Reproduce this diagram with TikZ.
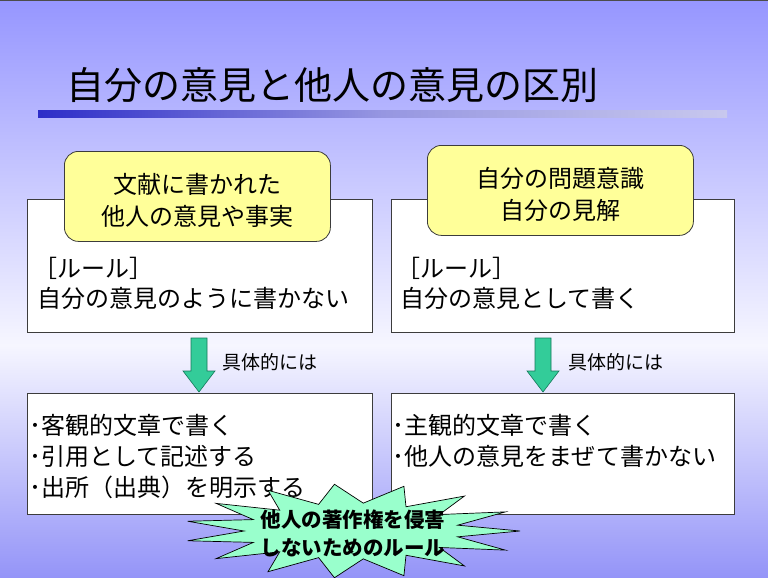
\documentclass[tikz,border=0pt]{standalone}
\usepackage{fontspec}
\setmainfont{Noto Sans CJK JP}
\definecolor{bgtop}{RGB}{150,150,255}
\definecolor{bgmid}{RGB}{246,246,255}
\definecolor{bgbot}{RGB}{148,148,248}
\definecolor{barL}{RGB}{45,45,200}
\definecolor{barM}{RGB}{150,150,225}
\definecolor{barR}{RGB}{200,200,238}
\definecolor{yel}{RGB}{255,255,153}
\definecolor{grn}{RGB}{51,204,153}
\definecolor{grnline}{RGB}{20,120,90}
\definecolor{mint}{RGB}{153,255,204}
\definecolor{edge}{RGB}{60,60,60}
\tikzset{
  whitebox/.style={draw=edge, line width=0.8pt, fill=white},
  yelbox/.style={draw=edge, line width=0.8pt, fill=yel, rounded corners=14pt},
  body/.style={font=\fontsize{24}{28}\selectfont, inner sep=0pt, anchor=west},
  ctext/.style={font=\fontsize{24}{28}\selectfont, inner sep=0pt},
  small/.style={font=\fontsize{19}{22}\selectfont, inner sep=0pt, anchor=west},
  bursttext/.style={font=\bfseries\fontsize{20.5}{24}\selectfont, inner sep=0pt},
  greenarrow/.style={fill=grn, draw=grnline, line width=0.6pt},
}
\begin{document}
\begin{tikzpicture}[x=1pt,y=-1pt]
\useasboundingbox (0,0) rectangle (768,578);
% background
\shade[top color=bgtop, bottom color=bgmid] (0,0) rectangle (768,345);
\shade[top color=bgmid, bottom color=bgbot] (0,345) rectangle (768,578);
\draw[line width=1.5pt, gray!60!black] (0,0.75) -- (768,0.75);
% title
\node[font=\fontsize{38}{42}\selectfont, inner sep=0pt, anchor=west] (title) at (66,85) {自分の意見と他人の意見の区別};
\shade[left color=barL, right color=barR, middle color=barM] (38,110) rectangle (727,117);
% top boxes
\node[whitebox, minimum width=345pt, minimum height=133pt, anchor=north west] (tl) at (27,199) {};
\node[whitebox, minimum width=343pt, minimum height=133pt, anchor=north west] (tr) at (391,199) {};
\node[yelbox, minimum width=266pt, minimum height=90pt, anchor=north west] (yl) at (64,151) {};
\node[yelbox, minimum width=266pt, minimum height=90pt, anchor=north west] (yr) at (427,145) {};
\node[ctext] (yl1) at (197,184) {文献に書かれた};
\node[ctext] (yl2) at (197,216) {他人の意見や事実};
\node[ctext] (yr1) at (560,178) {自分の問題意識};
\node[ctext] (yr2) at (560,210) {自分の見解};
\node[body] (tl1) at (33,268) {［ルール］};
\node[body] (tl2) at (37,298) {自分の意見のように書かない};
\node[body] (tr1) at (396,268) {［ルール］};
\node[body] (tr2) at (400,298) {自分の意見として書く};
% bottom boxes
\node[whitebox, minimum width=345pt, minimum height=121pt, anchor=north west] (bl) at (27,393) {};
\node[whitebox, minimum width=343pt, minimum height=121pt, anchor=north west] (br) at (391,393) {};
\node[body] (bl1) at (29,425) {･客観的文章で書く};
\node[body] (bl2) at (29,456) {･引用として記述する};
\node[body] (bl3) at (29,487) {･出所（出典）を明示する};
\node[body] (br1) at (392,425) {･主観的文章で書く};
\node[body] (br2) at (392,456) {･他人の意見をまぜて書かない};
% green arrows
\draw[greenarrow] (191,338) -- (207,338) -- (207,371) -- (215,371) -- (199,392) -- (183,371) -- (191,371) -- cycle;
\draw[greenarrow] (535,338) -- (551,338) -- (551,371) -- (559,371) -- (543,392) -- (527,371) -- (535,371) -- cycle;
\node[small] (gl) at (222,362) {具体的には};
\node[small] (gr) at (568,362) {具体的には};
% starburst
\begin{scope}[shift={(352,531)}]
\draw[fill=mint, draw=black, line width=0.7pt, line join=miter]
  (0:168pt and 47pt)
  \foreach \a in {0,24,...,336}{ -- (\a+12:108pt and 28pt) -- (\a+24:168pt and 47pt)} -- cycle;
\end{scope}
\node[bursttext] (b1) at (353,520) {他人の著作権を侵害};
\node[bursttext] (b2) at (353,548) {しないためのルール};
\end{tikzpicture}
\end{document}
